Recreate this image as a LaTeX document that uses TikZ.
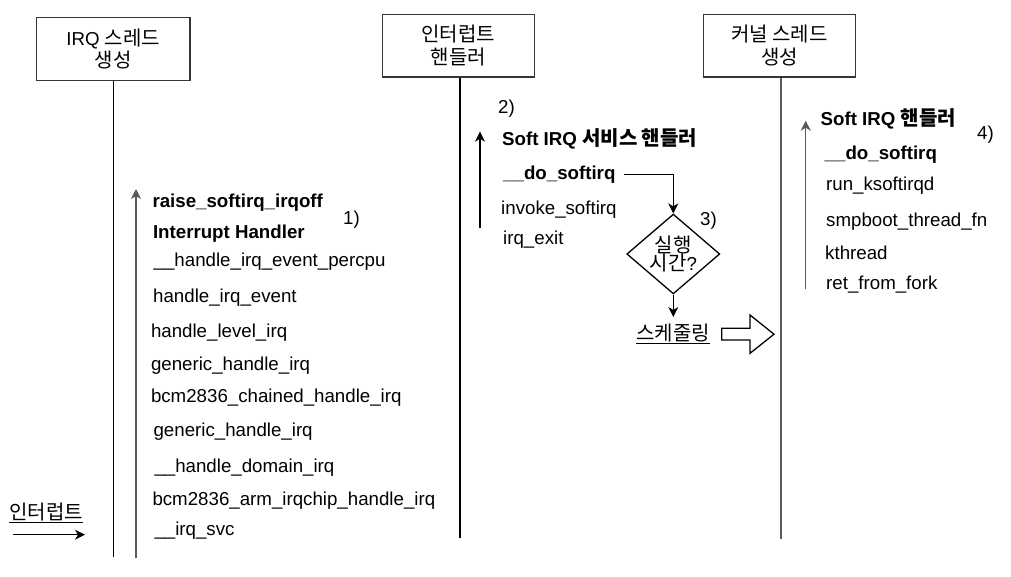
\documentclass[tikz,border=0pt]{standalone}
\usepackage{fontspec}
\setmainfont{Liberation Sans}
\newfontfamily\krfont[Scale=1.07]{Noto Sans CJK KR}
\newcommand{\ko}[1]{{\krfont #1}}
\usepackage{xcolor}
\usepackage{tikz}
\usetikzlibrary{shapes.geometric, arrows.meta}
\definecolor{linegray}{HTML}{5A5A5A}
\definecolor{boxgray}{HTML}{363636}
\tikzstyle{thread} = [rectangle, draw=boxgray, line width=1.3pt, minimum width=152pt, minimum height=62.7pt, align=center, inner sep=0pt]
\tikzstyle{decision} = [diamond, draw=black, line width=1.3pt, minimum width=93pt, minimum height=78pt, align=center, inner sep=-1pt, font=\fontsize{18.7}{18.5}\selectfont]
\tikzstyle{fnline} = [anchor=base west, inner sep=0pt]
\tikzstyle{life} = [line width=1.3pt]
\tikzstyle{arrow} = [line width=1.3pt, -{Stealth[length=10pt,width=10pt,inset=3pt]}]

\begin{document}
\begin{tikzpicture}[x=1pt, y=-1pt, font=\fontsize{18.7}{22.5}\selectfont]
   \useasboundingbox (0,0) rectangle (1011,576);
   % thread boxes and lifelines
   \node (irq) [thread, minimum width=153.3pt, minimum height=63pt] at (113.3,48.8) {IRQ \ko{스레드}\\\ko{생성}};
   \node (hnd) [thread] at (458.3,45.7) {\ko{인터럽트}\\\ko{핸들러}};
   \node (kth) [thread] at (779.5,45.7) {\ko{커널 스레드}\\\ko{생성}};
   \coordinate (irqend) at (113.3,556.7);
   \coordinate (hndend) at (460,537.7);
   \coordinate (kthend) at (781,539.3);
   \draw [life] (irq.south) -- (irqend);
   \draw [life] (hndend |- hnd.south) -- (hndend);
   \draw [life, draw=linegray] (kthend |- kth.south) -- (kthend);

   % incoming interrupt
   \node (irqin) [fnline] at (9,519.3) {\underline{\ko{인터럽트}}};
   \coordinate (inA) at (13,534.7);
   \coordinate (inB) at (85,534.7);
   \draw [arrow] (inA) -- (inB);

   % 1) interrupt handler call stack
   \coordinate (up1s) at (136,558.3);
   \coordinate (up1e) at (136,189);
   \draw [arrow, draw=linegray] (up1s) -- (up1e);
   \node (raise) [fnline] at (152.3,207.3) {\textbf{raise\_softirq\_irqoff}};
   \node (ihnd) [fnline] at (152.8,238.3) {\textbf{Interrupt Handler}};
   \node (percpu) [fnline] at (153.5,266.7) {\_\_handle\_irq\_event\_percpu};
   \node (hevent) [fnline] at (153,302.7) {handle\_irq\_event};
   \node (hlevel) [fnline] at (150.8,337.3) {handle\_level\_irq};
   \node (gen1) [fnline] at (150.8,370) {generic\_handle\_irq};
   \node (chain) [fnline] at (150.8,402.3) {bcm2836\_chained\_handle\_irq};
   \node (gen2) [fnline] at (153.4,436) {generic\_handle\_irq};
   \node (domain) [fnline] at (154.3,472) {\_\_handle\_domain\_irq};
   \node (chip) [fnline] at (152.3,505.3) {bcm2836\_arm\_irqchip\_handle\_irq};
   \node (svc) [fnline] at (154.3,535.3) {\_\_irq\_svc};
   \node (n1) [fnline] at (343,224.5) {1)};

   % 2) soft irq service handler
   \coordinate (up2s) at (480,228.3);
   \coordinate (up2e) at (480,131.7);
   \draw [arrow] (up2s) -- (up2e);
   \node (n2) [fnline] at (498,113.8) {2)};
   \node (svchnd) [fnline] at (502,145.5) {\textbf{Soft IRQ \ko{서비스 핸들러}}};
   \node (dosoft) [fnline] at (503,179.5) {\textbf{\_\_do\_softirq}};
   \node (invoke) [fnline] at (501,214) {invoke\_softirq};
   \node (irqexit) [fnline] at (503,244.5) {irq\_exit};

   % 3) run time check
   \node (decide) [decision] at (673.3,254) {\ko{실행}\\\ko{시간}?};
   \node (n3) [fnline] at (700,225.5) {3)};
   \draw [arrow] ([xshift=8pt]dosoft.east) -| (decide.north);
   \coordinate (schedtop) at (673.3,317);
   \draw [arrow] (decide.south) -- (schedtop);
   \node (sched) [fnline] at (636,340) {\underline{\ko{스케줄링}}};
   \draw [line width=1.3pt] (721.7,328.3) -- (750,328.3) -- (750,315) -- (774,334.2) -- (750,353.3) -- (750,340) -- (721.7,340) -- cycle;

   % 4) ksoftirqd thread
   \coordinate (up4s) at (805.7,289.3);
   \coordinate (up4e) at (805.7,120.7);
   \draw [arrow, draw=linegray] (up4s) -- (up4e);
   \node (softhnd) [fnline] at (820.5,125) {\textbf{Soft IRQ \ko{핸들러}}};
   \node (n4) [fnline] at (977,139.5) {4)};
   \node (dosoft2) [fnline] at (824.5,159.3) {\textbf{\_\_do\_softirq}};
   \node (runk) [fnline] at (826,190.7) {run\_ksoftirqd};
   \node (smp) [fnline] at (826,226.7) {smpboot\_thread\_fn};
   \node (kthr) [fnline] at (825,259.3) {kthread};
   \node (fork) [fnline] at (826,289.3) {ret\_from\_fork};
\end{tikzpicture}
\end{document}
